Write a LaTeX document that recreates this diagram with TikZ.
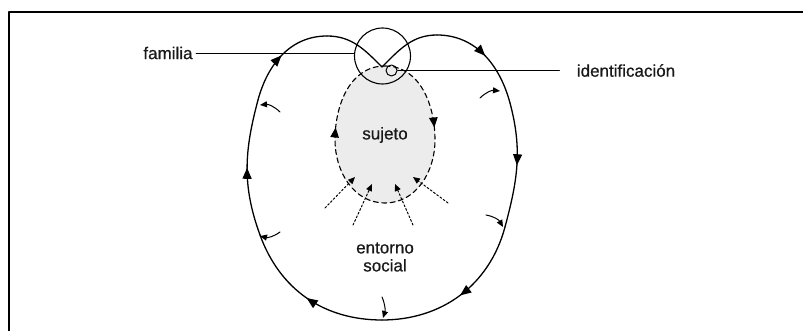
\documentclass[tikz,border=0pt]{standalone}
\usepackage{fontspec}
\setmainfont[FakeBold=0.7]{Liberation Sans}
\usepackage{tikz}
\usetikzlibrary{arrows.meta,calc}
\usetikzlibrary{positioning}
\usetikzlibrary{decorations.markings}

\tikzset{
  loopline/.style={line width=1.3pt},
  flow/.style={loopline,
    decoration={markings, mark=at position 0.5 with {\arrow{Triangle[length=11pt,width=9pt]}}},
    postaction={decorate}},
  push/.style={line width=1pt, -{Triangle[length=7pt,width=6pt]}},
  pull/.style={line width=1pt, dash pattern=on 2pt off 2pt, -{Triangle[length=7pt,width=6pt]}},
  lbl/.style={font=\fontsize{17}{18}\selectfont, text=black!90, align=center},
}

\begin{document}
\begin{tikzpicture}[x=1pt, y=1pt, line cap=round, line join=round]
  \useasboundingbox (0,0) rectangle (803,331);

  % Frame
  \draw[line width=2.4pt, line cap=butt] (9,0) -- (9,319) -- (803,319);

  % Sujeto (egg)
  \coordinate (Etop) at (385,265);
  \coordinate (Eright) at (435,191);
  \coordinate (Ebot) at (385,128);
  \coordinate (Eleft) at (335,191);
  \draw[line width=1.1pt, dash pattern=on 5pt off 3.5pt, fill=gray!15,
    decoration={markings,
      mark=at position 0.23 with {\arrow{Triangle[length=10pt,width=8.5pt]}},
      mark=at position 0.77 with {\arrow{Triangle[length=10pt,width=8.5pt]}}},
    postaction={decorate}]
    (Etop) to[out=0,in=90] (Eright) to[out=-90,in=0] (Ebot)
    to[out=180,in=-90] (Eleft) to[out=90,in=180] (Etop) -- cycle;

  % Points on the outer loop
  \coordinate (D) at (382,264);
  \coordinate (R1) at (437,296);
  \coordinate (K) at (510,228);
  \coordinate (K2) at (505,104);
  \coordinate (B) at (382,11);
  \coordinate (K3) at (260,96);
  \coordinate (K4) at (258,231);
  \coordinate (L1) at (327,295);

  % Outer loop
  \draw[loopline] (D) to[out=45,in=180] (R1);
  \draw[flow] (R1) to[out=0,in=105] (K);
  \draw[flow] (K) to[out=-75,in=75] (K2);
  \draw[flow] (K2) to[out=-105,in=0] (B);
  \draw[flow] (B) to[out=180,in=-70] (K3);
  \draw[flow] (K3) to[out=110,in=-105] (K4);
  \draw[flow] (K4) to[out=75,in=180] (L1);
  \draw[loopline] (L1) to[out=0,in=135] (D);

  % Circles
  \node[circle, draw, line width=1.1pt, minimum size=56pt, inner sep=0pt] (fam) at (382.5,275) {};
  \node[circle, draw, line width=1pt, minimum size=11pt, inner sep=0pt] (idc) at (391.5,260.5) {};

  % Labels
  \node[lbl] (lbfam) at (168,278) {familia};
  \node[lbl] (lbid) at (626,260.5) {identificación};
  \node[lbl] (lbsuj) at (385,196) {sujeto};
  \node[lbl] (lbent) at (385,74) {entorno\\social};

  \draw[line width=0.9pt] (lbfam.east) -- (lbfam.east -| fam.west);
  \draw[line width=0.9pt, shorten >=14pt] (idc.east) -- (lbid.west);

  % Entorno pushing on the sujeto
  \coordinate (p1) at (325,123); \coordinate (q1) at (355,154);
  \coordinate (p2) at (353,106); \coordinate (q2) at (372,147);
  \coordinate (p3) at (413,106); \coordinate (q3) at (395,147);
  \coordinate (p4) at (448,128); \coordinate (q4) at (413,154);
  \foreach \i in {1,...,4}
    \draw[pull] (p\i) -- (q\i);

  % Small arrows towards the loop
  \coordinate (s1) at (280,219); \coordinate (t1) at (260,226);
  \coordinate (s2) at (280,99);  \coordinate (t2) at (260,95);
  \coordinate (s3) at (480,233); \coordinate (t3) at (500,240);
  \coordinate (s4) at (486,116); \coordinate (t4) at (503,104);
  \coordinate (s5) at (382,34);  \coordinate (t5) at (383,13);
  \draw[push] (s1) to[bend right=25] (t1);
  \draw[push] (s2) to[bend left=25] (t2);
  \draw[push] (s3) to[bend left=25] (t3);
  \draw[push] (s4) to[bend left=25] (t4);
  \draw[push] (s5) to[bend left=20] (t5);
\end{tikzpicture}
\end{document}
